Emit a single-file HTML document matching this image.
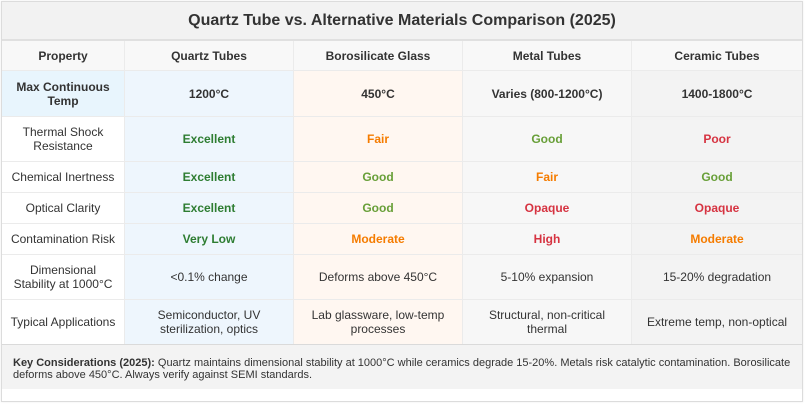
<!DOCTYPE html>
<html><head><meta charset="utf-8"><style>
*{box-sizing:border-box;margin:0;padding:0}
html,body{width:805px;height:405px;background:#fff;overflow:hidden}
body{font-family:"Liberation Sans",Arial,sans-serif;color:#333;position:relative}
.box{position:absolute;left:1px;top:1px;width:802px;height:401px;border:1px solid #dcdcdc;background:#fff;box-shadow:0 0 2px rgba(0,0,0,0.08)}
.title{position:absolute;left:2px;top:2px;width:800px;height:39px;background:#f2f2f2;border-bottom:2px solid #e0e0e0;display:flex;align-items:center;justify-content:center;font-weight:bold;font-size:16px;color:#333}
.c{position:absolute;display:flex;align-items:center;justify-content:center;text-align:center;font-size:12px;line-height:14px;border-bottom:1px solid #ebebeb;border-right:1px solid #ebebeb;padding:0 4px}
.h{background:#f8f8f8;font-weight:bold}
.p{background:#fff}
.q{background:#eef6fd}
.b{background:#fff7f1}
.m{background:#f7f7f7}
.k{background:#f3f3f3}
.bold{font-weight:bold}
.ex{color:#2e7d32;font-weight:bold}
.gd{color:#689f38;font-weight:bold}
.fr{color:#f57c00;font-weight:bold}
.pr{color:#d63341;font-weight:bold}
.foot{position:absolute;left:2px;top:344px;width:800px;height:45px;background:#f3f3f3;border-top:1px solid #dadada;font-size:11px;line-height:12px;padding:12px 11px 0 11px;color:#333}
</style></head><body>
<div class="box"></div>
<div class="title">Quartz Tube vs. Alternative Materials Comparison (2025)</div>

<div class="c h" style="left:2px;top:41px;width:123px;height:30px">Property</div>
<div class="c h" style="left:125px;top:41px;width:169px;height:30px">Quartz Tubes</div>
<div class="c h" style="left:294px;top:41px;width:169px;height:30px">Borosilicate Glass</div>
<div class="c h" style="left:463px;top:41px;width:169px;height:30px">Metal Tubes</div>
<div class="c h" style="left:632px;top:41px;width:170px;height:30px;border-right:none">Ceramic Tubes</div>

<div class="c bold" style="left:2px;top:71px;width:123px;height:46px;background:#e8f5fd">Max Continuous Temp</div>
<div class="c q bold" style="left:125px;top:71px;width:169px;height:46px">1200°C</div>
<div class="c b bold" style="left:294px;top:71px;width:169px;height:46px">450°C</div>
<div class="c m bold" style="left:463px;top:71px;width:169px;height:46px">Varies (800-1200°C)</div>
<div class="c k bold" style="left:632px;top:71px;width:170px;height:46px;border-right:none">1400-1800°C</div>

<div class="c p" style="left:2px;top:117px;width:123px;height:45px">Thermal Shock<br>Resistance</div>
<div class="c q ex" style="left:125px;top:117px;width:169px;height:45px">Excellent</div>
<div class="c b fr" style="left:294px;top:117px;width:169px;height:45px">Fair</div>
<div class="c m gd" style="left:463px;top:117px;width:169px;height:45px">Good</div>
<div class="c k pr" style="left:632px;top:117px;width:170px;height:45px;border-right:none">Poor</div>

<div class="c p" style="left:2px;top:162px;width:123px;height:31px">Chemical Inertness</div>
<div class="c q ex" style="left:125px;top:162px;width:169px;height:31px">Excellent</div>
<div class="c b gd" style="left:294px;top:162px;width:169px;height:31px">Good</div>
<div class="c m fr" style="left:463px;top:162px;width:169px;height:31px">Fair</div>
<div class="c k gd" style="left:632px;top:162px;width:170px;height:31px;border-right:none">Good</div>

<div class="c p" style="left:2px;top:193px;width:123px;height:31px">Optical Clarity</div>
<div class="c q ex" style="left:125px;top:193px;width:169px;height:31px">Excellent</div>
<div class="c b gd" style="left:294px;top:193px;width:169px;height:31px">Good</div>
<div class="c m pr" style="left:463px;top:193px;width:169px;height:31px">Opaque</div>
<div class="c k pr" style="left:632px;top:193px;width:170px;height:31px;border-right:none">Opaque</div>

<div class="c p" style="left:2px;top:224px;width:123px;height:31px">Contamination Risk</div>
<div class="c q ex" style="left:125px;top:224px;width:169px;height:31px">Very Low</div>
<div class="c b fr" style="left:294px;top:224px;width:169px;height:31px">Moderate</div>
<div class="c m pr" style="left:463px;top:224px;width:169px;height:31px">High</div>
<div class="c k fr" style="left:632px;top:224px;width:170px;height:31px;border-right:none">Moderate</div>

<div class="c p" style="left:2px;top:255px;width:123px;height:45px">Dimensional<br>Stability at 1000°C</div>
<div class="c q" style="left:125px;top:255px;width:169px;height:45px">&lt;0.1% change</div>
<div class="c b" style="left:294px;top:255px;width:169px;height:45px">Deforms above 450°C</div>
<div class="c m" style="left:463px;top:255px;width:169px;height:45px">5-10% expansion</div>
<div class="c k" style="left:632px;top:255px;width:170px;height:45px;border-right:none">15-20% degradation</div>

<div class="c p" style="left:2px;top:300px;width:123px;height:44px;border-bottom:none">Typical Applications</div>
<div class="c q" style="left:125px;top:300px;width:169px;height:44px;border-bottom:none">Semiconductor, UV<br>sterilization, optics</div>
<div class="c b" style="left:294px;top:300px;width:169px;height:44px;border-bottom:none">Lab glassware, low-temp<br>processes</div>
<div class="c m" style="left:463px;top:300px;width:169px;height:44px;border-bottom:none">Structural, non-critical<br>thermal</div>
<div class="c k" style="left:632px;top:300px;width:170px;height:44px;border-right:none;border-bottom:none">Extreme temp, non-optical</div>

<div class="foot"><b>Key Considerations (2025):</b> Quartz maintains dimensional stability at 1000°C while ceramics degrade 15-20%. Metals risk catalytic contamination. Borosilicate deforms above 450°C. Always verify against SEMI standards.</div>
</body></html>
